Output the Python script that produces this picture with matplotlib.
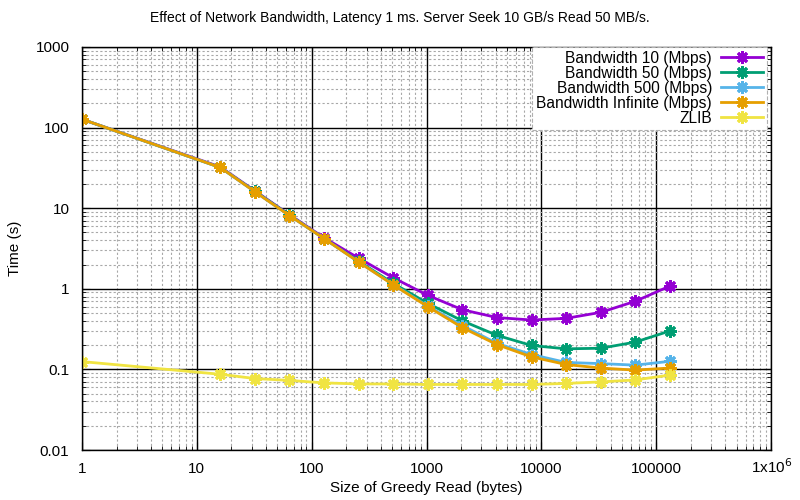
import matplotlib
matplotlib.use('Agg')
import matplotlib.pyplot as plt
from matplotlib.ticker import LogLocator, FixedLocator, NullFormatter

plt.rcParams['font.family'] = ['Liberation Sans', 'DejaVu Sans']

# greedy read sizes (bytes)
sizes = [1, 16, 32, 64, 128, 256, 512, 1024, 2048, 4096, 8192, 16384, 32768, 65536, 131072]

bw10 = [127, 32.5, 16.4, 8.3, 4.3, 2.4, 1.37, 0.83, 0.55, 0.44, 0.41, 0.43, 0.51, 0.70, 1.08]
bw50 = [127, 32, 16.2, 8.2, 4.2, 2.2, 1.17, 0.66, 0.40, 0.265, 0.198, 0.18, 0.183, 0.218, 0.30]
bw500 = [127, 32, 16.0, 8.1, 4.2, 2.15, 1.13, 0.61, 0.35, 0.21, 0.153, 0.122, 0.118, 0.113, 0.126]
bwinf = [127, 32, 16.0, 8.1, 4.2, 2.15, 1.12, 0.60, 0.33, 0.203, 0.143, 0.115, 0.104, 0.098, 0.104]
zlib = [0.125, 0.087, 0.077, 0.073, 0.068, 0.066, 0.066, 0.065, 0.065, 0.065, 0.065, 0.067, 0.070, 0.074, 0.085]

labels = ['Bandwidth 10 (Mbps)', 'Bandwidth 50 (Mbps)', 'Bandwidth 500 (Mbps)',
          'Bandwidth Infinite (Mbps)', 'ZLIB']
colors = ['#9400d3', '#009e73', '#56b4e9', '#e69f00', '#f0e442']
xticks = [1, 10, 100, 1000, 1e4, 1e5, 1e6]
xticklabels = ['1', '10', '100', '1000', '10000', '100000', r'1x10$^{6}$']
yticks = [0.01, 0.1, 1, 10, 100, 1000]
yticklabels = ['0.01', '0.1', '1', '10', '100', '1000']

fig = plt.figure(figsize=(8, 5), dpi=100)
ax = fig.add_axes([0.1025, 0.10, 0.8615, 0.806])

for ys, lab, c in zip([bw10, bw50, bw500, bwinf, zlib], labels, colors):
    ax.plot(sizes, ys, color=c, lw=2, marker=(8, 2, 0), ms=9, mew=2, label=lab)

ax.set_xscale('log')
ax.set_yscale('log')
ax.set_xlim(1, 1e6)
ax.set_ylim(0.01, 1000)

ax.xaxis.set_major_locator(FixedLocator(xticks))
ax.set_xticklabels(xticklabels)
ax.yaxis.set_major_locator(FixedLocator(yticks))
ax.set_yticklabels(yticklabels)
ax.xaxis.set_minor_locator(LogLocator(base=10, subs=range(2, 10), numticks=20))
ax.yaxis.set_minor_locator(LogLocator(base=10, subs=range(2, 10), numticks=20))
ax.xaxis.set_minor_formatter(NullFormatter())
ax.yaxis.set_minor_formatter(NullFormatter())

ax.grid(True, which='major', color='black', lw=1, ls='-')
ax.grid(True, which='minor', color='#a8a8a8', lw=0.8, ls=(0, (2, 2)))
ax.set_axisbelow(True)
ax.tick_params(which='both', direction='in', top=True, right=True, labelsize=11)
ax.tick_params(axis='x', which='major', length=6, pad=16.5)
ax.tick_params(axis='y', which='major', length=6, pad=9)
ax.tick_params(which='minor', length=3)
for t in ax.get_xticklabels():
    t.set_verticalalignment('baseline')
for s in ax.spines.values():
    s.set_linewidth(1)

ax.set_xlabel('Size of Greedy Read (bytes)', fontsize=11, va='center')
ax.xaxis.set_label_coords(0.5, -0.094)
ax.set_ylabel('Time (s)', fontsize=11, va='center')
ax.yaxis.set_label_coords(-0.097, 0.5)
fig.text(0.5, 1 - 18 / 500,
         'Effect of Network Bandwidth, Latency 1 ms. Server Seek 10 GB/s Read 50 MB/s.',
         fontsize=10, ha='center', va='center')

leg = ax.legend(loc='upper right', bbox_to_anchor=(1 - 4 / 689, 1), markerfirst=False,
                fontsize=11.2, handlelength=2.7, labelspacing=0.0, borderaxespad=0,
                fancybox=False, framealpha=1, edgecolor='#b0b0b0', handletextpad=0.6,
                borderpad=0.25)
leg.get_frame().set_linestyle('--')
leg.get_frame().set_linewidth(0.8)

fig.savefig('out.png', dpi=100)
